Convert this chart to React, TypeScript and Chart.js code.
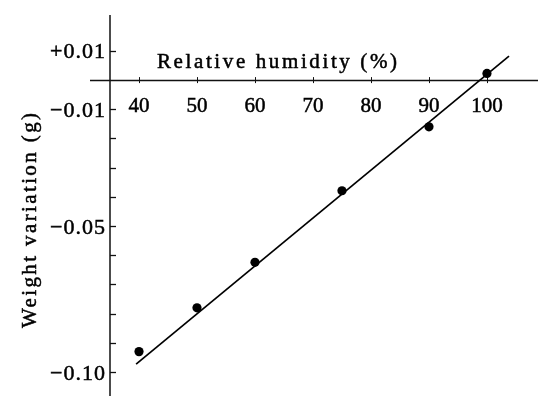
import React, { useEffect, useRef } from 'react';
import { Chart, registerables } from 'chart.js';

Chart.register(...registerables);

// ---- data ----
const humidity = [40, 50, 60, 75, 90, 100];
const weightVariation = [-0.093, -0.078, -0.0624, -0.0379, -0.016, 0.0023];
const fitLineX = [39.5, 103.8];
const fitLineY = [-0.0973, 0.0082];

const xTicks = [40, 50, 60, 70, 80, 90, 100];
const xTickLabels = ['40', '50', '60', '70', '80', '90', '100'];
const yMajorTicks = [0.01, -0.01, -0.05, -0.1];
const yMajorLabels = ['+0.01', '\u22120.01', '\u22120.05', '\u22120.10'];
const yMinorTicks = [0.01, -0.01, -0.02, -0.03, -0.04, -0.05, -0.06, -0.07, -0.08, -0.09, -0.1];

const xTitle = 'Relative humidity (%)';
const yTitle = 'Weight variation (g)';

const xMin = 35;
const xMax = 108.8;
const yMin = -0.1082;
const yMax = 0.0223;

const FONT = "'Liberation Serif', 'DejaVu Serif', 'Times New Roman', serif";

function inkText(ctx: CanvasRenderingContext2D, text: string, x: number, y: number) {
  ctx.fillText(text, x, y);
  ctx.strokeText(text, x, y);
}

function spacedText(ctx: CanvasRenderingContext2D, text: string, left: number, baseline: number, width: number) {
  (ctx as any).letterSpacing = '0px';
  const w0 = ctx.measureText(text).width;
  const n = Array.from(text).length;
  const sp = n > 1 ? (width - w0) / (n - 1) : 0;
  (ctx as any).letterSpacing = sp + 'px';
  ctx.textAlign = 'left';
  inkText(ctx, text, left, baseline);
  (ctx as any).letterSpacing = '0px';
}

const axesPlugin = {
  id: 'paperAxes',
  beforeDatasetsDraw(chart: any) {
    const { ctx, chartArea, scales } = chart;
    const x = scales.x;
    const y = scales.y;
    const axisX = x.getPixelForValue(xMin);
    const zeroY = y.getPixelForValue(0);
    ctx.save();
    ctx.strokeStyle = '#111';
    ctx.fillStyle = '#000';
    ctx.lineWidth = 1.5;

    // y axis line
    ctx.beginPath();
    ctx.moveTo(axisX, chartArea.top);
    ctx.lineTo(axisX, chartArea.bottom);
    ctx.stroke();

    // x axis line (at zero)
    ctx.beginPath();
    ctx.moveTo(axisX - 20, zeroY + 0.5);
    ctx.lineTo(chartArea.right, zeroY + 0.5);
    ctx.stroke();

    // y ticks (inside, to the right)
    ctx.lineWidth = 1.3;
    yMinorTicks.forEach((v) => {
      const py = Math.round(y.getPixelForValue(v)) + 0.5;
      ctx.beginPath();
      ctx.moveTo(axisX, py);
      ctx.lineTo(axisX + 6, py);
      ctx.stroke();
    });

    // x ticks
    ctx.lineWidth = 1;
    xTicks.forEach((v) => {
      const px = Math.round(x.getPixelForValue(v)) + 0.5;
      ctx.beginPath();
      ctx.moveTo(px, zeroY - 3);
      ctx.lineTo(px, zeroY + 3);
      ctx.stroke();
    });

    ctx.strokeStyle = '#000';
    ctx.lineWidth = 0.5;
    ctx.textBaseline = 'alphabetic';

    // y tick labels
    ctx.font = `22px ${FONT}`;
    yMajorTicks.forEach((v, i) => {
      const py = y.getPixelForValue(v);
      const txt = yMajorLabels[i];
      (ctx as any).letterSpacing = '1px';
      const w = ctx.measureText(txt).width - 1;
      ctx.textAlign = 'left';
      inkText(ctx, txt, axisX - 5 - w, py + 7.5);
      (ctx as any).letterSpacing = '0px';
    });

    // x tick labels
    ctx.font = `21px ${FONT}`;
    ctx.textAlign = 'center';
    xTicks.forEach((v, i) => {
      const px = x.getPixelForValue(v);
      inkText(ctx, xTickLabels[i], px, zeroY + 32);
    });

    // x title
    ctx.font = `21px ${FONT}`;
    spacedText(ctx, xTitle, 157, 68, 240);

    // y title
    ctx.save();
    ctx.translate(36, 221);
    ctx.rotate(-Math.PI / 2);
    ctx.font = `21px ${FONT}`;
    spacedText(ctx, yTitle, -107, 0, 215);
    ctx.restore();

    ctx.restore();
  },
};

export default function App() {
  const ref = useRef<HTMLCanvasElement | null>(null);
  useEffect(() => {
    if (!ref.current) return;
    const chart = new Chart(ref.current, {
      type: 'scatter',
      data: {
        datasets: [
          {
            type: 'line',
            label: 'fit',
            data: fitLineX.map((xv, i) => ({ x: xv, y: fitLineY[i] })),
            borderColor: '#000',
            borderWidth: 1.7,
            pointRadius: 0,
            showLine: true,
            fill: false,
            tension: 0,
          } as any,
          {
            label: 'measured',
            data: humidity.map((h, i) => ({ x: h, y: weightVariation[i] })),
            backgroundColor: '#000',
            borderColor: '#000',
            borderWidth: 0,
            pointRadius: 4.6,
            showLine: false,
          },
        ],
      },
      options: {
        responsive: false,
        animation: false,
        layout: { autoPadding: false, padding: { left: 110, top: 15, right: 0, bottom: 0 } },
        plugins: {
          legend: { display: false },
          tooltip: { enabled: false },
          title: { display: false },
        },
        scales: {
          x: { type: 'linear', min: xMin, max: xMax, display: false },
          y: { type: 'linear', min: yMin, max: yMax, display: false },
        },
      },
      plugins: [axesPlugin],
    });
    return () => chart.destroy();
  }, []);
  return (
    <div style={{ position: 'fixed', left: 0, top: 0, width: 538, height: 396, background: '#fff' }}>
      <canvas ref={ref} width={538} height={396} style={{ display: 'block', width: 538, height: 396 }} />
    </div>
  );
}
